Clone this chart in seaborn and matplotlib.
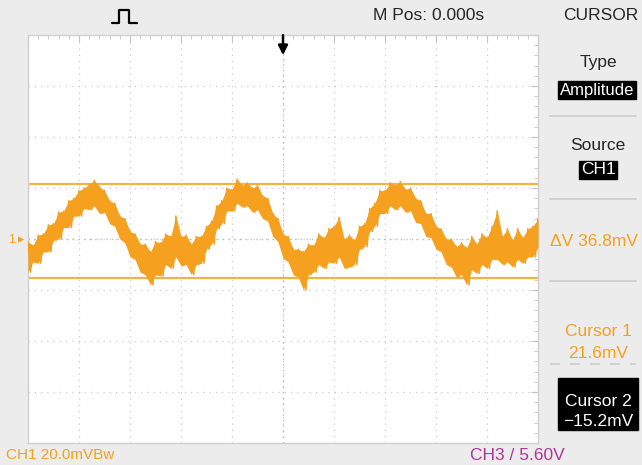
import numpy as np
import pandas as pd
import matplotlib
matplotlib.use("Agg")
import matplotlib.pyplot as plt
import seaborn as sns
from matplotlib.lines import Line2D
from matplotlib.patches import Rectangle

# scope settings
volts_per_div = 20.0          # mV/div
n_xdiv, n_ydiv = 10, 8
cursor1 = 21.6                # mV
cursor2 = -15.2               # mV
delta_v = 36.8                # mV

# trace envelope (mV), read every 0.1 div across the screen
upper = [-1, -2.5, 1.5, 2, 5.5, 6, 10.5, 11, 15, 16,
         19, 20, 21.5, 23, 20.5, 19, 15, 14, 9, 8,
         3, 2, -2, -2, -5, -1, -1.5, 2, 1, 9,
         1, 1.5, -2, 1, 1, 5, 7, 13, 15, 20,
         19.5, 23.5, 21, 22, 20, 21, 17, 16, 10, 8,
         2, 1, -4, -4, -5, -2, -2.5, 2, 0.5, 4,
         5, 8.5, 0, 1.5, -0.5, 5, 6, 12, 14, 19,
         19, 22, 21, 22.5, 19.5, 20, 16, 15, 10, 10,
         5, 4, 0, 0, -3, -1.5, -3.5, 1, -2, 2,
         0.5, 5, 11, 1, 4, -0.5, 4, 0.5, 4, 5, 8]
lower = [-13, -9, -9.5, -5, -5, -0.5, 0, 4.5, 4.5, 9,
         9, 12, 11.5, 13, 10, 10.5, 6, 5, 0, -1.5,
         -7, -8, -13, -14, -18, -14, -14.5, -10, -11.5, -7,
         -10.5, -10, -14, -10, -9.5, -4, -2, 4, 6, 11,
         11, 14, 12.5, 13, 10.5, 11.5, 8, 7, 1, -1,
         -7.5, -9, -14, -15, -20, -14, -13, -10, -11.5, -9,
         -9.5, -7, -11.5, -11, -10, -4, -3, 3, 5, 10,
         10, 13, 11.5, 13, 10.5, 11, 6.5, 6, 1, 0.5,
         -4, -5, -10, -11, -15, -14, -18, -12, -13.5, -10,
         -11.5, -8, -8, -10, -9, -11, -8, -9.5, -7, -7, -3]
t_env = [i * 0.1 for i in range(len(upper))]

# zig-zag between the two envelope edges to draw the noisy trace
t_div = []
mv = []
for i in range(len(upper)):
    t_div += [t_env[i], t_env[i] + 0.05]
    mv += [upper[i], lower[i]]
trace = pd.DataFrame({"t": t_div, "mV": mv})
trace = trace[trace["t"] <= n_xdiv]

orange = "#f5a01e"
cursor_col = "#f2b440"

sns.set_style("white")
plt.rcParams["font.family"] = ["Liberation Sans Narrow", "Liberation Sans", "DejaVu Sans"]

fig = plt.figure(figsize=(6.42, 4.65), dpi=100, facecolor="#ececec")
ax = fig.add_axes([28 / 642, 22 / 465, 510 / 642, 408 / 465])
ax.set_facecolor("white")

ymax = volts_per_div * n_ydiv / 2
ax.set_xlim(0, n_xdiv)
ax.set_ylim(-ymax, ymax)

# graticule
for k in range(1, n_xdiv):
    ax.axvline(k, color="#cccccc", lw=0.9, ls=(0, (1, 4)), zorder=0)
for k in range(1, n_ydiv):
    ax.axhline(-ymax + k * volts_per_div, color="#cccccc", lw=0.9, ls=(0, (1, 4)), zorder=0)
ax.axvline(n_xdiv / 2, color="#bdbdbd", lw=1.0, ls=(0, (1, 3)), zorder=0)
ax.axhline(0, color="#bdbdbd", lw=1.0, ls=(0, (1, 3)), zorder=0)

ax.set_xticks(np.arange(0, n_xdiv + 1, 1))
ax.set_xticks(np.arange(0, n_xdiv + 0.01, 0.2), minor=True)
ax.set_yticks(np.arange(-ymax, ymax + 1, volts_per_div))
ax.set_yticks(np.arange(-ymax, ymax + 1, volts_per_div / 5), minor=True)
ax.tick_params(which="both", direction="in", top=True, right=True,
               labelbottom=False, labelleft=False, color="#c4c4c4")
ax.tick_params(which="major", length=5)
ax.tick_params(which="minor", length=3)
for s in ax.spines.values():
    s.set_color("#d0d0d0")
    s.set_linewidth(1.0)

# trace and cursors
ax.fill_between(t_env, lower, upper, color=orange, lw=0, zorder=3)
sns.lineplot(data=trace, x="t", y="mV", ax=ax, color=orange, lw=1.1,
             estimator=None, sort=False, zorder=3)
ax.axhline(cursor1, color=cursor_col, lw=1.6, zorder=2)
ax.axhline(cursor2, color=cursor_col, lw=1.6, zorder=2)
ax.set_xlabel("")
ax.set_ylabel("")

# trigger position arrow
ax.annotate("", xy=(n_xdiv / 2, ymax - 9), xytext=(n_xdiv / 2, ymax + 1),
            arrowprops=dict(arrowstyle="-|>", color="black", lw=1.8, mutation_scale=14),
            annotation_clip=False)

# top bar
W, H = 642, 465
def fx(x):
    return x / W
def fy(y):
    return 1 - y / H

fs = 12.5
fig.text(fx(12), fy(240), "1", color=orange, fontsize=9, ha="center", va="center")
fig.text(fx(21), fy(240), "\u25b8", color=orange, fontsize=9, ha="center", va="center")

fig.add_artist(Line2D([fx(112), fx(119), fx(119), fx(129), fx(129), fx(137)],
                      [fy(23), fy(23), fy(10), fy(10), fy(23), fy(23)],
                      color="black", lw=1.6))
fig.text(fx(429), fy(16), "M Pos: 0.000s", ha="center", va="center", fontsize=fs)
fig.text(fx(601), fy(16), "CURSOR", ha="center", va="center", fontsize=fs)

# right menu
fig.text(fx(598), fy(62), "Type", ha="center", va="center", fontsize=fs)
fig.text(fx(597), fy(90), "Amplitude", ha="center", va="center", fontsize=fs - 0.5,
         color="white", bbox=dict(boxstyle="square,pad=0.08", fc="black", ec="black"))
fig.text(fx(598), fy(145), "Source", ha="center", va="center", fontsize=fs)
fig.text(fx(598), fy(170), "CH1", ha="center", va="center", fontsize=fs, color="white",
         bbox=dict(boxstyle="square,pad=0.08", fc="black", ec="black"))
fig.text(fx(594), fy(241), "\u0394V %.1fmV" % delta_v, ha="center", va="center",
         fontsize=fs, color=orange)
fig.text(fx(598), fy(331), "Cursor 1", ha="center", va="center", fontsize=fs, color=orange)
fig.text(fx(598), fy(354), "%.1fmV" % cursor1, ha="center", va="center", fontsize=fs,
         color=orange)
fig.add_artist(Rectangle((fx(558), fy(430)), fx(80), 52 / H, color="black"))
fig.text(fx(598), fy(401), "Cursor 2", ha="center", va="center", fontsize=fs, color="white")
fig.text(fx(598), fy(421), "\u2212%.1fmV" % abs(cursor2), ha="center", va="center",
         fontsize=fs, color="white")
for ysep in [116, 199, 281]:
    fig.add_artist(Line2D([fx(550), fx(636)], [fy(ysep), fy(ysep)], color="#cccccc", lw=1.2))
fig.add_artist(Line2D([fx(550), fx(636)], [fy(364), fy(364)], color="#cccccc", lw=1.2,
                      ls=(0, (6, 6))))

# bottom bar
fig.text(fx(6), fy(455), "CH1 20.0mVBw", ha="left", va="center", fontsize=11, color=orange)
fig.text(fx(470), fy(455), "CH3 / 5.60V", ha="left", va="center", fontsize=fs,
         color="#b0359a")

fig.savefig("out.png", dpi=100, facecolor=fig.get_facecolor())
